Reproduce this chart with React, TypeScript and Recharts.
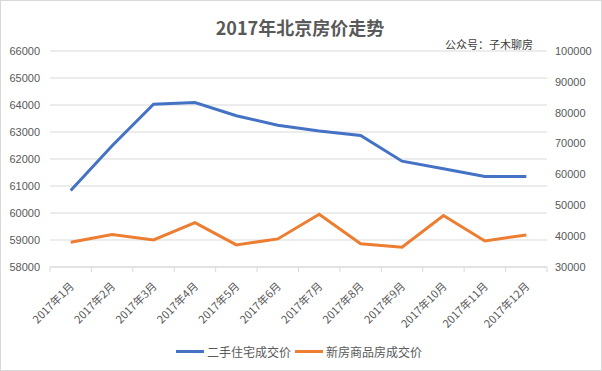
import { LineChart, Line, XAxis, YAxis, CartesianGrid, Legend } from "recharts";

// month labels
const months = [
  "2017年1月", "2017年2月", "2017年3月", "2017年4月", "2017年5月", "2017年6月",
  "2017年7月", "2017年8月", "2017年9月", "2017年10月", "2017年11月", "2017年12月",
];

// 二手住宅成交价 (left axis)
const secondHand = [60830, 62490, 64030, 64090, 63600, 63250, 63040, 62870, 61920, 61640, 61350, 61350];

// 新房商品房成交价 (right axis)
const newHome = [38000, 40500, 38750, 44400, 37150, 39100, 47100, 37550, 36400, 46700, 38450, 40400];

const leftTicks = [58000, 59000, 60000, 61000, 62000, 63000, 64000, 65000, 66000];
const rightTicks = [30000, 40000, 50000, 60000, 70000, 80000, 90000, 100000];

const data = months.map((m, i) => ({ month: m, secondHand: secondHand[i], newHome: newHome[i] }));

const TEXT = "#595959";
const GRID = "#d9d9d9";
const NUM_FONT = "'Liberation Sans', Arial, sans-serif";
const CJK_FONT = "'Noto Sans CJK SC', sans-serif";

// half a category slot: plot is 497px wide, 12 months
const HALF = 497 / 24;

const MonthTick = (props: any) => {
  const { x, y, payload, index } = props;
  const last = index === months.length - 1;
  return (
    <g>
      <line x1={x - HALF} y1={y - 8} x2={x - HALF} y2={y - 3} stroke={GRID} />
      {last && <line x1={x + HALF} y1={y - 8} x2={x + HALF} y2={y - 3} stroke={GRID} />}
      <text
        transform={`translate(${x + 4},${y + 12}) rotate(-45)`}
        textAnchor="end"
        fontSize={11}
        fill={TEXT}
        fontFamily={CJK_FONT}
      >
        {payload.value}
      </text>
    </g>
  );
};

const LegendContent = (props: any) => {
  const { payload } = props;
  return (
    <div style={{ display: "flex", justifyContent: "center", alignItems: "center", height: 20 }}>
      {(payload || []).map((p: any) => (
        <div key={p.value} style={{ display: "flex", alignItems: "center", marginRight: 4 }}>
          <span style={{ display: "inline-block", width: 28, height: 3, background: p.color, marginRight: 3 }} />
          <span style={{ fontSize: 12, color: TEXT, fontFamily: CJK_FONT }}>{p.value}</span>
        </div>
      ))}
    </div>
  );
};

export default function App() {
  return (
    <div
      style={{
        position: "absolute",
        left: 0,
        top: 0,
        width: 602,
        height: 371,
        background: "#fff",
        border: `1px solid ${GRID}`,
        boxSizing: "border-box",
      }}
    >
      <div
        style={{
          position: "absolute",
          left: 0,
          top: 13,
          width: 598,
          textAlign: "center",
          fontFamily: CJK_FONT,
          fontWeight: 700,
          fontSize: 18,
          color: TEXT,
          lineHeight: "26px",
        }}
      >
        2017年北京房价走势
      </div>
      <div
        style={{
          position: "absolute",
          left: 444,
          top: 35,
          fontFamily: CJK_FONT,
          fontSize: 11,
          color: "#404040",
          lineHeight: "16px",
          zIndex: 2,
        }}
      >
        公众号：子木聊房
      </div>
      <div style={{ position: "absolute", left: -1, top: -1 }}>
        <LineChart
          width={602}
          height={371}
          data={data}
          margin={{ top: 51, right: 0, left: 0, bottom: 10 }}
        >
          <CartesianGrid yAxisId="left" vertical={false} stroke={GRID} />
          <XAxis
            dataKey="month"
            height={74}
            padding={{ left: HALF, right: HALF }}
            axisLine={{ stroke: GRID }}
            tickLine={false}
            interval={0}
            tick={<MonthTick />}
          />
          <YAxis
            yAxisId="left"
            orientation="left"
            width={50}
            domain={[58000, 66000]}
            ticks={leftTicks}
            axisLine={false}
            tickLine={false}
            tickMargin={4}
            tick={{ fontSize: 11, fill: TEXT, fontFamily: NUM_FONT }}
          />
          <YAxis
            yAxisId="right"
            orientation="right"
            width={55}
            domain={[30000, 100000]}
            ticks={rightTicks}
            axisLine={false}
            tickLine={false}
            tickMargin={2}
            tick={{ fontSize: 11, fill: TEXT, fontFamily: NUM_FONT }}
          />
          <Legend verticalAlign="bottom" content={<LegendContent />} />
          <Line
            yAxisId="left"
            type="linear"
            dataKey="secondHand"
            name="二手住宅成交价"
            stroke="#4472C4"
            strokeWidth={3}
            dot={false}
            isAnimationActive={false}
          />
          <Line
            yAxisId="right"
            type="linear"
            dataKey="newHome"
            name="新房商品房成交价"
            stroke="#ED7D31"
            strokeWidth={3}
            dot={false}
            isAnimationActive={false}
          />
        </LineChart>
      </div>
    </div>
  );
}
